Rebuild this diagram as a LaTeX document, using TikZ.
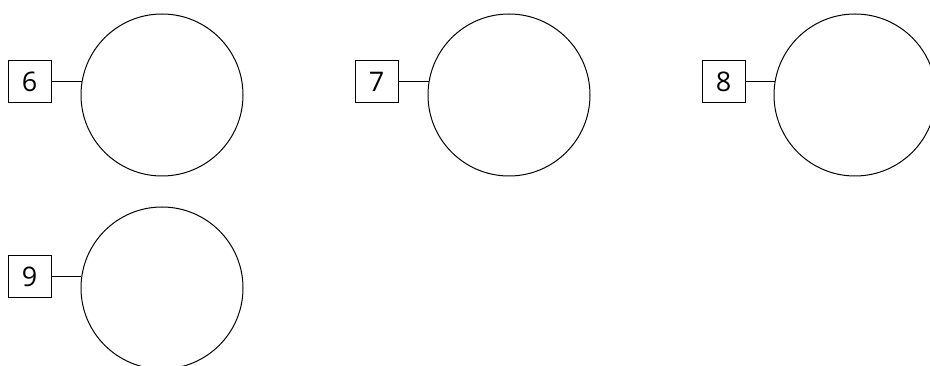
\documentclass[tikz,border=0pt]{standalone}
\usepackage{fontspec}
\setmainfont{Open Sans}
\begin{document}
\begin{tikzpicture}[x=1pt,y=-1pt,
  numbox/.style={draw, line width=1pt, minimum width=43pt, minimum height=42pt, inner sep=0pt, font=\fontsize{27}{30}\selectfont},
  ring/.style={draw, line width=1pt, circle, minimum size=162pt, inner sep=0pt},
  link/.style={line width=1pt}]
\useasboundingbox (0,0) rectangle (930,366);
\node[numbox] (b6) at (29.5,82) {6};
\node[ring] (c6) at (162,95) {};
\coordinate (e6) at (81.5,82);
\draw[link] (b6.east) -- (e6);
\node[numbox] (b7) at (376.5,82) {7};
\node[ring] (c7) at (509,95) {};
\coordinate (e7) at (428.5,82);
\draw[link] (b7.east) -- (e7);
\node[numbox] (b8) at (723.5,82) {8};
\node[ring] (c8) at (855,95) {};
\coordinate (e8) at (774.5,82);
\draw[link] (b8.east) -- (e8);
\node[numbox] (b9) at (29.5,277) {9};
\node[ring] (c9) at (162,288) {};
\coordinate (e9) at (81.3,277);
\draw[link] (b9.east) -- (e9);
\end{tikzpicture}
\end{document}
